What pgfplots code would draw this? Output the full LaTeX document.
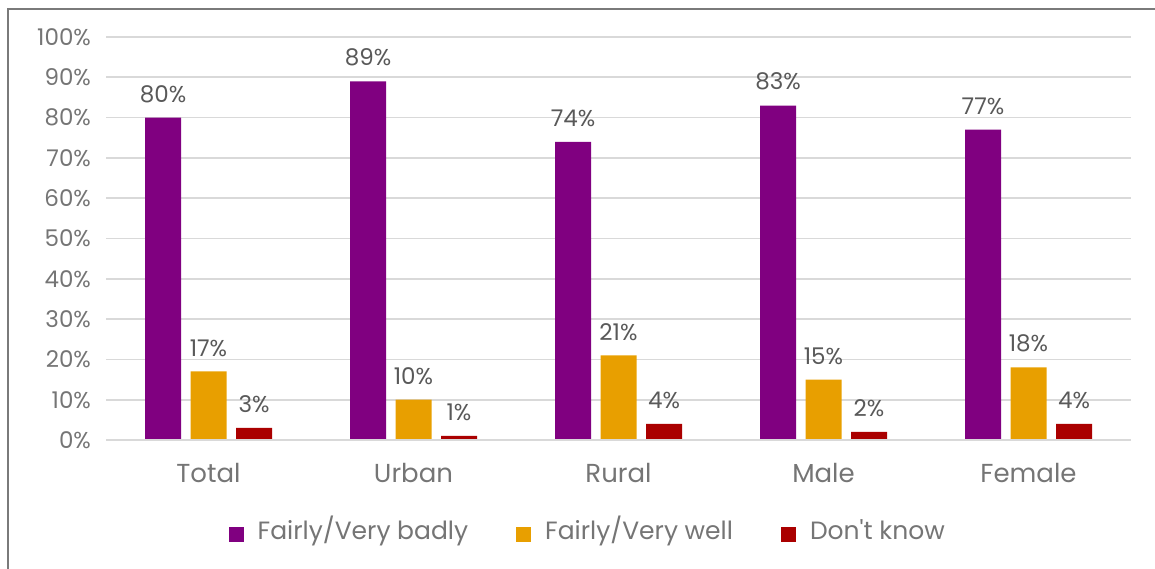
\documentclass[border=0pt]{standalone}
\usepackage{pgfplots}
\pgfplotsset{compat=1.18}
\usepackage{fontspec}
\setmainfont{Poppins}[Ligatures=TeXOff]
\definecolor{cPurple}{HTML}{800080}
\definecolor{cOrange}{HTML}{E89F00}
\definecolor{cRed}{HTML}{AA0000}
\definecolor{cGrid}{HTML}{D9D9D9}
\definecolor{cTick}{HTML}{757575}
\definecolor{cLab}{HTML}{595959}
\definecolor{cFrame}{HTML}{7A7A7A}
\begin{document}
\begin{tikzpicture}
\useasboundingbox (0pt,0pt) rectangle (577.5pt,284pt);
\draw[cFrame,line width=1pt] (4pt,-3pt) -- (4pt,279.5pt) -- (580pt,279.5pt);
\begin{axis}[
  at={(53pt,64pt)}, anchor=south west,
  scale only axis, width=512.5pt, height=201.5pt,
  xmin=-0.5, xmax=4.5, ymin=0, ymax=100,
  axis line style={draw=none},
  ybar, bar width=18pt,
  xtick={0,1,2,3,4},
  xticklabels={Total,Urban,Rural,Male,Female},
  xticklabel style={font=\fontsize{13}{15}\selectfont, text=cTick, yshift=-8pt},
  ytick={0,10,...,100},
  yticklabel={\pgfmathprintnumber{\tick}\%},
  yticklabel style={font=\fontsize{11.5}{13}\selectfont, text=cTick, xshift=-4pt},
  /pgf/number format/assume math mode=true,
  major tick length=0pt,
  ymajorgrids, grid style={cGrid, line width=0.9pt},
  nodes near coords={\pgfmathprintnumber{\pgfplotspointmeta}\%},
  every node near coord/.append style={font=\fontsize{11.5}{13}\selectfont, text=cLab, anchor=south, yshift=4pt},
  legend style={draw=none, at={(0.471,-0.235)}, anchor=center,
     font=\fontsize{12.5}{14}\selectfont, text=cTick, legend columns=3,
     nodes={text height=0.75em, text depth=0.25em, inner sep=2pt},
     /tikz/every even column/.append style={column sep=22pt},
     /tikz/every odd column/.append style={column sep=5pt}},
  legend image code/.code={\fill[#1] (0pt,-3.75pt) rectangle (7.5pt,3.75pt);},
  clip=false,
]
\addplot[fill=cPurple, draw=none, bar shift=-22.75pt] coordinates {(0,80) (1,89) (2,74) (3,83) (4,77)};
\addplot[fill=cOrange, draw=none, bar shift=0pt] coordinates {(0,17) (1,10) (2,21) (3,15) (4,18)};
\addplot[fill=cRed, draw=none, bar shift=22.75pt] coordinates {(0,3) (1,1) (2,4) (3,2) (4,4)};
\legend{Fairly/Very badly, Fairly/Very well, Don't know}
\draw[cGrid, line width=0.9pt] (rel axis cs:0,0) -- (rel axis cs:1,0);
\end{axis}
\end{tikzpicture}
\end{document}
